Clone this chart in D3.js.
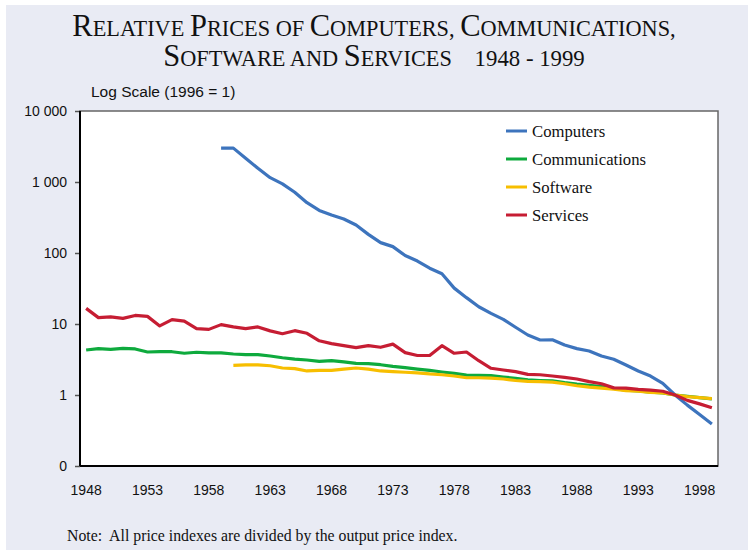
<!DOCTYPE html>
<html>
<head>
<meta charset="utf-8">
<script src="https://cdn.jsdelivr.net/npm/d3@7"></script>
<style>
  body { margin: 0; background: #fff; }
  svg { display: block; }
</style>
</head>
<body>
<div id="chart"></div>
<script>
// Years on the x axis
const years = [1948, 1949, 1950, 1951, 1952, 1953, 1954, 1955, 1956, 1957,
  1958, 1959, 1960, 1961, 1962, 1963, 1964, 1965, 1966, 1967,
  1968, 1969, 1970, 1971, 1972, 1973, 1974, 1975, 1976, 1977,
  1978, 1979, 1980, 1981, 1982, 1983, 1984, 1985, 1986, 1987,
  1988, 1989, 1990, 1991, 1992, 1993, 1994, 1995, 1996, 1997,
  1998, 1999];

// Relative price indexes (1996 = 1), null where no data
const computers = [null, null, null, null, null, null, null, null, null, null,
  null, 3000, 3000, 2160, 1560, 1150, 940, 716, 511, 398,
  343, 301, 248, 183, 140, 123, 92, 77, 61, 51,
  32, 23.5, 17.5, 14.1, 11.6, 9.0, 7.0, 5.95, 6.0, 5.06,
  4.5, 4.17, 3.54, 3.18, 2.65, 2.18, 1.85, 1.46, 1.0, 0.72,
  0.53, 0.39];

const communications = [4.3, 4.5, 4.4, 4.55, 4.45, 4.03, 4.07, 4.07, 3.87, 4.0,
  3.92, 3.92, 3.78, 3.7, 3.7, 3.54, 3.35, 3.21, 3.11, 2.98,
  3.04, 2.92, 2.79, 2.77, 2.67, 2.53, 2.43, 2.32, 2.22, 2.11,
  2.02, 1.91, 1.89, 1.87, 1.79, 1.72, 1.63, 1.6, 1.58, 1.49,
  1.42, 1.37, 1.31, 1.24, 1.17, 1.14, 1.1, 1.07, 1.0, 0.96,
  0.92, 0.88];

const software = [null, null, null, null, null, null, null, null, null, null,
  null, null, 2.62, 2.65, 2.65, 2.58, 2.4, 2.35, 2.18, 2.22,
  2.22, 2.32, 2.4, 2.32, 2.18, 2.13, 2.09, 2.05, 1.98, 1.93,
  1.85, 1.75, 1.75, 1.73, 1.68, 1.6, 1.56, 1.54, 1.52, 1.44,
  1.35, 1.29, 1.25, 1.21, 1.15, 1.13, 1.09, 1.07, 1.0, 0.95,
  0.92, 0.89];

const services = [16.6, 12.3, 12.6, 12.0, 13.2, 12.8, 9.4, 11.5, 11.0, 8.6,
  8.4, 9.8, 9.1, 8.6, 9.1, 8.0, 7.3, 8.05, 7.4, 5.8,
  5.3, 4.95, 4.65, 4.95, 4.7, 5.2, 3.95, 3.6, 3.6, 4.95,
  3.87, 4.03, 3.04, 2.38, 2.25, 2.13, 1.95, 1.93, 1.85, 1.77,
  1.68, 1.54, 1.44, 1.26, 1.25, 1.2, 1.17, 1.13, 1.0, 0.84,
  0.75, 0.66];

const seriesNames = ["Computers", "Communications", "Software", "Services"];
const seriesColors = ["#3d74bd", "#0eaa3d", "#f7be00", "#c61d33"];
const seriesValues = [computers, communications, software, services];

// Axis tick values and labels
const yTickValues = [0.1, 1, 10, 100, 1000, 10000];
const yTickLabels = ["0", "1", "10", "100", "1 000", "10 000"];
const xTickYears = [1948, 1953, 1958, 1963, 1968, 1973, 1978, 1983, 1988, 1993, 1998];

const W = 748, H = 550;
const margin = { top: 111, right: 30, bottom: 84, left: 80 };
const width = W - margin.left - margin.right;
const height = H - margin.top - margin.bottom;

const svg = d3.select("#chart")
  .append("svg")
  .attr("width", W)
  .attr("height", H);

// Lavender panel behind everything
svg.append("rect")
  .attr("x", 6).attr("y", 5)
  .attr("width", W - 6).attr("height", H - 5)
  .attr("fill", "#e9ebf4");

// Title in small caps (big first letters)
const titleLines = [
  [["R", 1], ["ELATIVE ", 0], ["P", 1], ["RICES OF ", 0], ["C", 1], ["OMPUTERS, ", 0], ["C", 1], ["OMMUNICATIONS,", 0]],
  [["S", 1], ["OFTWARE AND ", 0], ["S", 1], ["ERVICES", 0], ["\u00a0\u00a0\u00a0\u00a01948 - 1999", 2]]
];
titleLines.forEach(function (line, i) {
  const t = svg.append("text")
    .attr("x", 374)
    .attr("y", 36 + i * 30)
    .attr("text-anchor", "middle")
    .style("font-family", "'Liberation Serif', 'Times New Roman', serif")
    .style("fill", "#111");
  line.forEach(function (seg) {
    t.append("tspan")
      .attr("font-size", seg[1] === 1 ? 30.5 : (seg[1] === 2 ? 22.8 : 22.3))
      .text(seg[0]);
  });
});

// Scale label
svg.append("text")
  .attr("x", 91)
  .attr("y", 97)
  .style("font-family", "'Liberation Sans', Arial, sans-serif")
  .style("font-size", "15.5px")
  .style("fill", "#111")
  .text("Log Scale (1996 = 1)");

const g = svg.append("g")
  .attr("transform", `translate(${margin.left},${margin.top})`);

// Plot area
g.append("rect")
  .attr("width", width)
  .attr("height", height)
  .attr("fill", "#fff")
  .attr("stroke", "#666")
  .attr("stroke-width", 1.5);

// X scale: one band per year, lines at band centres
const x = d3.scaleBand()
  .domain(years)
  .range([0, width]);
const xc = (yr) => x(yr) + x.bandwidth() / 2;

// Y scale (log)
const y = d3.scaleLog()
  .domain([0.1, 10000])
  .range([height, 0]);

// Y axis
const yAxis = g.append("g")
  .call(d3.axisLeft(y)
    .tickValues(yTickValues)
    .tickSize(5)
    .tickPadding(8)
    .tickFormat((d, i) => yTickLabels[i]));
yAxis.select(".domain").remove();
yAxis.selectAll(".tick line").attr("stroke", "#555").attr("stroke-width", 1.5);
yAxis.selectAll("text")
  .style("font-family", "'Liberation Sans', Arial, sans-serif")
  .style("font-size", "14px")
  .style("fill", "#111");

// X axis labels
const xAxis = g.append("g")
  .attr("transform", `translate(0,${height})`)
  .call(d3.axisBottom(x)
    .tickValues(xTickYears)
    .tickSize(0)
    .tickPadding(19));
xAxis.select(".domain").remove();
xAxis.selectAll("text")
  .style("font-family", "'Liberation Sans', Arial, sans-serif")
  .style("font-size", "14px")
  .style("fill", "#111");

// Black left and bottom axis lines
g.append("line")
  .attr("x1", 0).attr("x2", 0)
  .attr("y1", 0).attr("y2", height)
  .attr("stroke", "#000").attr("stroke-width", 2);
g.append("line")
  .attr("x1", 0).attr("x2", width)
  .attr("y1", height).attr("y2", height)
  .attr("stroke", "#000").attr("stroke-width", 2);

// Series lines
const line = d3.line()
  .defined((d) => d.v != null)
  .x((d) => xc(d.year))
  .y((d) => y(d.v));

[0, 1, 2, 3].forEach(function (k) {
  const pts = years.map((yr, i) => ({ year: yr, v: seriesValues[k][i] }));
  g.append("path")
    .datum(pts)
    .attr("fill", "none")
    .attr("stroke", seriesColors[k])
    .attr("stroke-width", 3.2)
    .attr("stroke-linejoin", "round")
    .attr("d", line);
});

// Legend
const legend = g.append("g")
  .attr("transform", "translate(426,20)");
seriesNames.forEach(function (name, i) {
  legend.append("line")
    .attr("x1", 0).attr("x2", 21)
    .attr("y1", i * 28).attr("y2", i * 28)
    .attr("stroke", seriesColors[i])
    .attr("stroke-width", 3);
  legend.append("text")
    .attr("x", 26)
    .attr("y", i * 28 + 5.5)
    .style("font-family", "'Liberation Serif', 'Times New Roman', serif")
    .style("font-size", "16.7px")
    .style("fill", "#111")
    .text(name);
});

// Footnote
svg.append("text")
  .attr("x", 67)
  .attr("y", 541)
  .style("font-family", "'Liberation Serif', 'Times New Roman', serif")
  .style("font-size", "15.8px")
  .style("fill", "#111")
  .text("Note:\u00a0 All price indexes are divided by the output price index.");
</script>
</body>
</html>
